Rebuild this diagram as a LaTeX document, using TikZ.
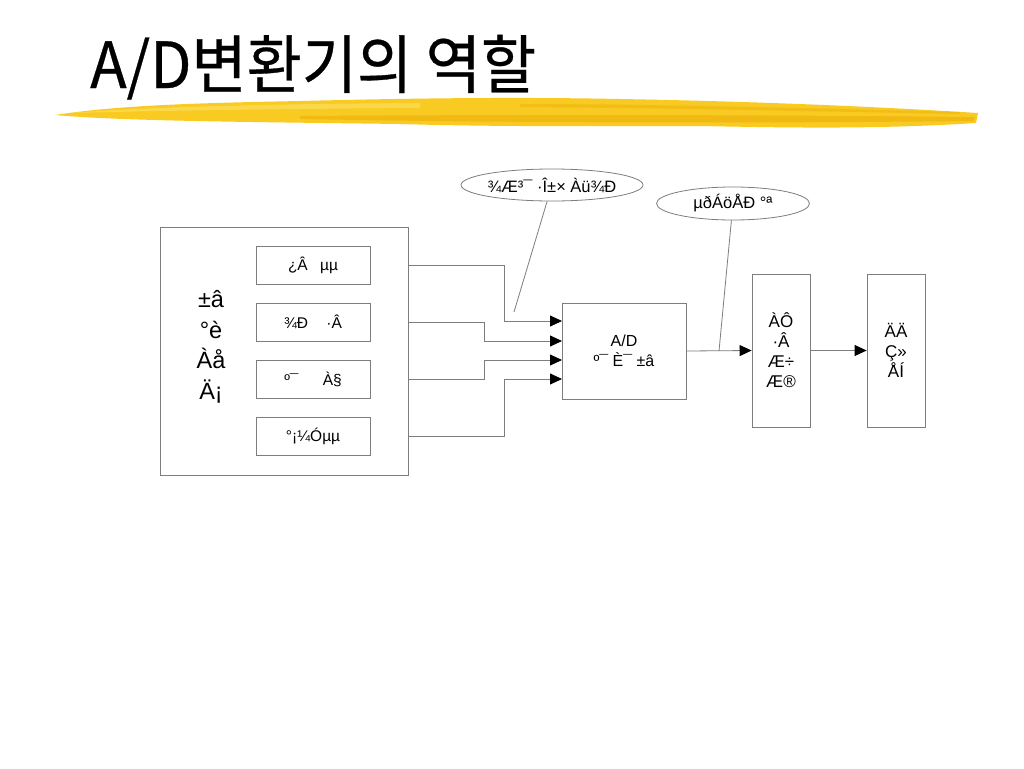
\documentclass[tikz,border=0pt]{standalone}
\usepackage{fontspec}
\setmainfont{Liberation Sans}
\newfontfamily\kr[FakeBold=0.5]{Noto Sans CJK KR}
\usetikzlibrary{arrows.meta,shapes.geometric}
\definecolor{brush}{RGB}{248,202,34}
\definecolor{brushdark}{RGB}{236,176,8}
\definecolor{brushlight}{RGB}{252,222,90}
\definecolor{edge}{RGB}{125,125,125}
\begin{document}
\begin{tikzpicture}[x=1pt,y=-1pt,
  box/.style={draw=edge,line width=0.8pt,inner sep=0pt,align=center},
  conn/.style={draw=edge,line width=0.8pt},
  arr/.style={conn,-{Triangle[length=12pt,width=11pt,color=black]}},
  callout/.style={ellipse,draw=edge,line width=0.8pt,inner sep=0pt,font=\fontsize{16.5}{19}\selectfont},
  small/.style={font=\fontsize{15.5}{18}\selectfont},
  mid/.style={font=\fontsize{17}{20}\selectfont}]
\useasboundingbox[fill=white] (0,0) rectangle (1024,768);

% brush stroke
\fill[brush] (55,115) .. controls (120,105) and (200,103) .. (300,101)
  .. controls (420,98) and (520,97) .. (620,99)
  .. controls (730,101) and (850,105) .. (978,113) -- (976,123)
  .. controls (880,129) and (800,128) .. (700,126)
  .. controls (600,126) and (500,127) .. (400,124)
  .. controls (250,122) and (120,121) .. cycle;
\fill[brushlight,opacity=0.7] (70,113) .. controls (150,107) and (260,104) .. (420,103)
  -- (420,108) .. controls (260,109) and (150,111) .. cycle;
\fill[brushdark,opacity=0.6] (300,116) .. controls (450,115) and (650,114) .. (975,117)
  -- (973,121) .. controls (700,124) and (450,122) .. (300,119) -- cycle;
\fill[brushdark,opacity=0.45] (520,104) .. controls (650,104) and (800,108) .. (960,112)
  -- (960,114) .. controls (800,111) and (650,108) .. (520,107) -- cycle;

% title
\node[anchor=base west,inner sep=0pt,yscale=1.06,font=\kr\fontsize{60}{60}\selectfont] (title) at (90,88) {A/D변환기의 역할};

% device box
\node[box,minimum width=248pt,minimum height=248pt] (dev) at (284,351) {};
\node[align=center,inner sep=0pt,font=\fontsize{23.5}{30.5}\selectfont] (devlbl) at (211,347) {±â\\°è\\Àå\\Ä¡};

\node[box,small,minimum width=114pt,minimum height=38pt] (s1) at (313,265) {¿Â\hspace{8pt} µµ};
\node[box,small,minimum width=114pt,minimum height=38pt] (s2) at (313,322) {¾Ð\hspace{14pt} ·Â};
\node[box,small,minimum width=114pt,minimum height=38pt] (s3) at (313,379) {º¯\hspace{20pt} À§};
\node[box,small,minimum width=114pt,minimum height=38pt] (s4) at (313,436) {°¡¼Óµµ};

% A/D converter
\node[box,font=\fontsize{16}{20}\selectfont,minimum width=124pt,minimum height=96pt] (ad) at (624,351) {A/D\\º¯ È¯ ±â};

% input port and computer
\node[box,mid,minimum width=58pt,minimum height=153pt] (port) at (781,350.5) {ÀÔ\\·Â\\Æ÷\\Æ®};
\node[box,mid,minimum width=58pt,minimum height=153pt] (comp) at (896,350.5) {ÄÄ\\Ç»\\ÅÍ};

% arrow targets on A/D box
\coordinate (in1) at (562,321);
\coordinate (in2) at (562,341);
\coordinate (in3) at (562,360);
\coordinate (in4) at (562,379);

\draw[arr] (dev.east |- s1) -- (504,265) -- (504,321) -- (in1);
\draw[arr] (dev.east |- s2) -- (484,322) -- (484,341) -- (in2);
\draw[arr] (dev.east |- s3) -- (484,379) -- (484,360) -- (in3);
\draw[arr] (dev.east |- s4) -- (504,436) -- (504,379) -- (in4);

\draw[arr] (ad.east) -- (port.west);
\draw[arr] (port.east) -- (comp.west);

% callouts
\node[callout,minimum width=176pt,minimum height=32pt] (c1) at (552,185) {¾Æ³¯ ·Î±× Àü¾Ð};
\node[callout,minimum width=153pt,minimum height=33pt] (c2) at (733,203.5) {µðÁöÅÐ °ª};
\coordinate (p1) at (514,312);
\coordinate (p2) at (719,351);
\draw[conn] (p1) -- (c1);
\draw[conn] (p2) -- (c2);
\end{tikzpicture}
\end{document}
